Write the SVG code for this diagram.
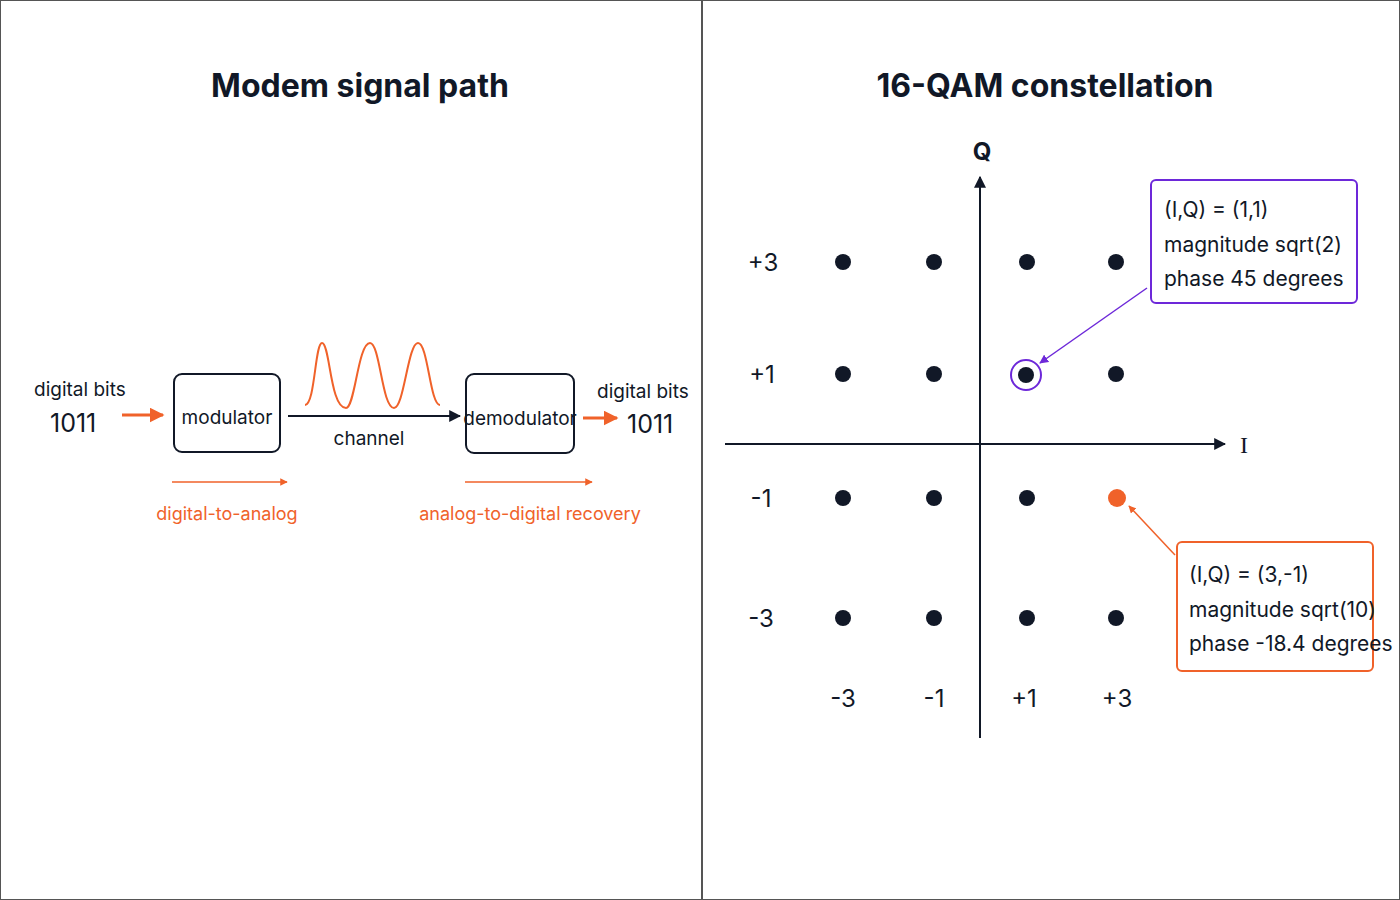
<svg xmlns="http://www.w3.org/2000/svg" width="1400" height="900" viewBox="0 0 1400 900">
<style>
text{font-family:"Inter","Liberation Sans",sans-serif;fill:#111827}
.t{font-size:32px;font-weight:700;text-anchor:middle}
.l{font-size:19px}
.b{font-size:25px}
.o{fill:#f0622a;font-size:18px}
.box{fill:#fff;stroke:#111827;stroke-width:2}
.dot{fill:#111827}
.ax{font-size:24px;text-anchor:middle}
</style>
<defs>
<marker id="ak" viewBox="0 0 10 10" refX="9" refY="5" markerWidth="6" markerHeight="6" orient="auto"><path d="M0 0L10 5L0 10z" fill="#111827"/></marker>
<marker id="ao" viewBox="0 0 10 10" refX="9" refY="5" markerWidth="5" markerHeight="5" orient="auto"><path d="M0 0L10 5L0 10z" fill="#f0622a"/></marker>
<marker id="ap" viewBox="0 0 10 10" refX="9" refY="5" markerWidth="6" markerHeight="6" orient="auto"><path d="M0 0L10 5L0 10z" fill="#6d28d9"/></marker>
</defs>
<rect width="1400" height="900" fill="#fff"/>
<rect x="0.5" y="0.5" width="1399" height="899" fill="none" stroke="#555"/>
<line x1="702" y1="0" x2="702" y2="900" stroke="#555" stroke-width="2"/>
<text class="t" x="360" y="97">Modem signal path</text>
<text class="t" x="1045" y="97">16-QAM constellation</text>

<g id="input"><text class="l" x="34" y="396">digital bits</text><text class="b" x="50" y="432">1011</text></g>
<g id="modulator"><rect class="box" x="174" y="374" width="106" height="78" rx="8"/><text class="l" x="227" y="424" text-anchor="middle">modulator</text></g>
<g id="demodulator"><rect class="box" x="466" y="374" width="108" height="79" rx="8"/><text class="l" x="520" y="425" text-anchor="middle">demodulator</text></g>
<g id="output"><text class="l" x="597" y="398">digital bits</text><text class="b" x="627" y="433">1011</text></g>
<g id="wave"><path d="M305 405 C315 405 315 343 322 343 C330 343 330 408 346 408 C355 408 358 343 370 343 C380 343 382 408 394 408 C404 408 408 343 418 343 C428 343 430 405 440 405" fill="none" stroke="#f0622a" stroke-width="2"/></g>
<text class="l" x="369" y="445" text-anchor="middle">channel</text>
<text class="o" x="227" y="520" text-anchor="middle">digital-to-analog</text>
<text class="o" x="530" y="520" text-anchor="middle">analog-to-digital recovery</text>

<g id="connectors">
<line x1="122" y1="415" x2="163" y2="415" stroke="#f0622a" stroke-width="3" marker-end="url(#ao)"/>
<line x1="288" y1="416" x2="460" y2="416" stroke="#111827" stroke-width="2" marker-end="url(#ak)"/>
<line x1="583" y1="418" x2="617" y2="418" stroke="#f0622a" stroke-width="3" marker-end="url(#ao)"/>
<line x1="172" y1="482" x2="287" y2="482" stroke="#f0622a" stroke-width="1.5" marker-end="url(#ao)"/>
<line x1="465" y1="482" x2="592" y2="482" stroke="#f0622a" stroke-width="1.5" marker-end="url(#ao)"/>
<line x1="980" y1="738" x2="980" y2="177" stroke="#111827" stroke-width="2" marker-end="url(#ak)"/>
<line x1="725" y1="444" x2="1225" y2="444" stroke="#111827" stroke-width="2" marker-end="url(#ak)"/>
<line x1="1147" y1="288" x2="1040" y2="363" stroke="#6d28d9" stroke-width="1.5" marker-end="url(#ap)"/>
<line x1="1175" y1="555" x2="1129" y2="506" stroke="#f0622a" stroke-width="1.5" marker-end="url(#ao)"/>
</g>
<text x="982" y="160" class="ax" style="font-weight:700">Q</text>
<text x="1244" y="453" class="ax" style="font-family:'Liberation Serif',serif">I</text>

<g id="points">
<circle class="dot" cx="843" cy="262" r="8"/><circle class="dot" cx="934" cy="262" r="8"/><circle class="dot" cx="1027" cy="262" r="8"/><circle class="dot" cx="1116" cy="262" r="8"/>
<circle class="dot" cx="843" cy="374" r="8"/><circle class="dot" cx="934" cy="374" r="8"/><circle class="dot" cx="1026" cy="375" r="8"/><circle class="dot" cx="1116" cy="374" r="8"/>
<circle class="dot" cx="843" cy="498" r="8"/><circle class="dot" cx="934" cy="498" r="8"/><circle class="dot" cx="1027" cy="498" r="8"/><circle cx="1117" cy="498" r="9" fill="#f0622a"/>
<circle class="dot" cx="843" cy="618" r="8"/><circle class="dot" cx="934" cy="618" r="8"/><circle class="dot" cx="1027" cy="618" r="8"/><circle class="dot" cx="1116" cy="618" r="8"/>
<circle cx="1026" cy="375" r="15" fill="none" stroke="#6d28d9" stroke-width="2"/>
</g>
<g id="axis-labels">
<text class="ax" x="763" y="271">+3</text><text class="ax" x="762" y="383">+1</text><text class="ax" x="761" y="507">-1</text><text class="ax" x="761" y="627">-3</text>
<text class="ax" x="843" y="707">-3</text><text class="ax" x="934" y="707">-1</text><text class="ax" x="1024" y="707">+1</text><text class="ax" x="1117" y="707">+3</text>
</g>
<g id="callout-purple"><rect x="1151" y="180" width="206" height="123" rx="5" fill="#fff" stroke="#6d28d9" stroke-width="2"/>
<text class="l" x="1164" y="217" style="font-size:21px">(I,Q) = (1,1)</text><text class="l" x="1164" y="252" style="font-size:21px">magnitude sqrt(2)</text><text class="l" x="1164" y="286" style="font-size:21px">phase 45 degrees</text></g>
<g id="callout-orange"><rect x="1177" y="542" width="196" height="129" rx="5" fill="#fff" stroke="#f0622a" stroke-width="2"/>
<text class="l" x="1189" y="582" style="font-size:21px">(I,Q) = (3,-1)</text><text class="l" x="1189" y="617" style="font-size:21px">magnitude sqrt(10)</text><text class="l" x="1189" y="651" style="font-size:21px">phase -18.4 degrees</text></g>
</svg>
